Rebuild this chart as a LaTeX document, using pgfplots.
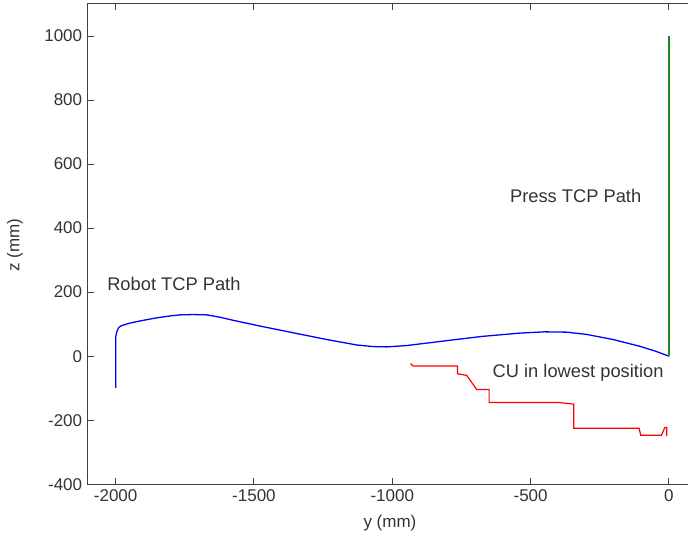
\documentclass[border=0pt]{standalone}
\usepackage{pgfplots}
\pgfplotsset{compat=1.18}
\usepackage{fontspec}
\setmainfont{Liberation Sans}
\definecolor{axgray}{RGB}{64,64,64}
\definecolor{pressgreen}{RGB}{30,135,30}
\begin{document}
\fontsize{17}{20}\selectfont
\begin{tikzpicture}
\begin{axis}[
    name=ax,
    scale only axis,
    width=600.4pt, height=480.3pt,
    xmin=-2100, xmax=70,
    ymin=-400, ymax=1100,
    xtick={-2000,-1500,-1000,-500,0},
    ytick={-400,-200,0,200,400,600,800,1000},
    tick align=inside,
    xtick pos=both,
    ytick pos=left,
    major tick length=6pt,
    axis line style={axgray, line width=1pt},
    every tick/.style={axgray, line width=1pt},
    tick label style={text=black!80},
    /pgf/number format/assume math mode=true,
    /pgf/number format/1000 sep={},
    xlabel={y (mm)},
    ylabel={z (mm)},
    xlabel style={at={(axis description cs:0.503,0)}, anchor=center, yshift=-38.7pt, text=black!80},
    ylabel style={at={(axis description cs:0,0.498)}, anchor=center, yshift=73pt, text=black!80},
]
% Robot TCP path
\addplot[blue, line width=1.3pt] coordinates {
    (-2000,-100) (-2000,60) (-1996,75) (-1990,88) (-1980,95) (-1950,103)
    (-1900,112) (-1850,120) (-1800,126) (-1767,129) (-1720,130) (-1671,129)
    (-1625,122) (-1575,112) (-1478,94) (-1358,73) (-1237,52) (-1129,35)
    (-1070,30) (-1020,29) (-950,33) (-864,42) (-770,52) (-672,62)
    (-539,72) (-450,76) (-370,75) (-298,68) (-202,52) (-106,31)
    (-50,16) (0,0)
};
% CU in lowest position
\addplot[red, line width=1.2pt] coordinates {
    (-934,-23) (-925,-31) (-764,-31) (-764,-55) (-731,-60) (-695,-104)
    (-650,-104) (-650,-145) (-394,-145) (-344,-150) (-344,-225) (-108,-225)
    (-102,-247) (-27,-247) (-15,-223) (-8,-223) (-8,-249)
};
% Press TCP path
\addplot[pressgreen, line width=1.2pt] coordinates {(0,0) (0,1000)};
\node[anchor=west, text=black!80, inner sep=0pt, font=\fontsize{18.3}{21}\selectfont] at (axis cs:-2031,227) {Robot TCP Path};
\node[anchor=west, text=black!80, inner sep=0pt, font=\fontsize{18.3}{21}\selectfont] at (axis cs:-575,501) {Press TCP Path};
\node[anchor=west, text=black!80, inner sep=0pt, font=\fontsize{18.3}{21}\selectfont] at (axis cs:-638,-52) {CU in lowest position};
\end{axis}
\pgfresetboundingbox
\path[use as bounding box] ([xshift=-88pt,yshift=-53.7pt]ax.south west) rectangle ([xshift=-0.3pt,yshift=4pt]ax.north east);
\end{tikzpicture}
\end{document}
